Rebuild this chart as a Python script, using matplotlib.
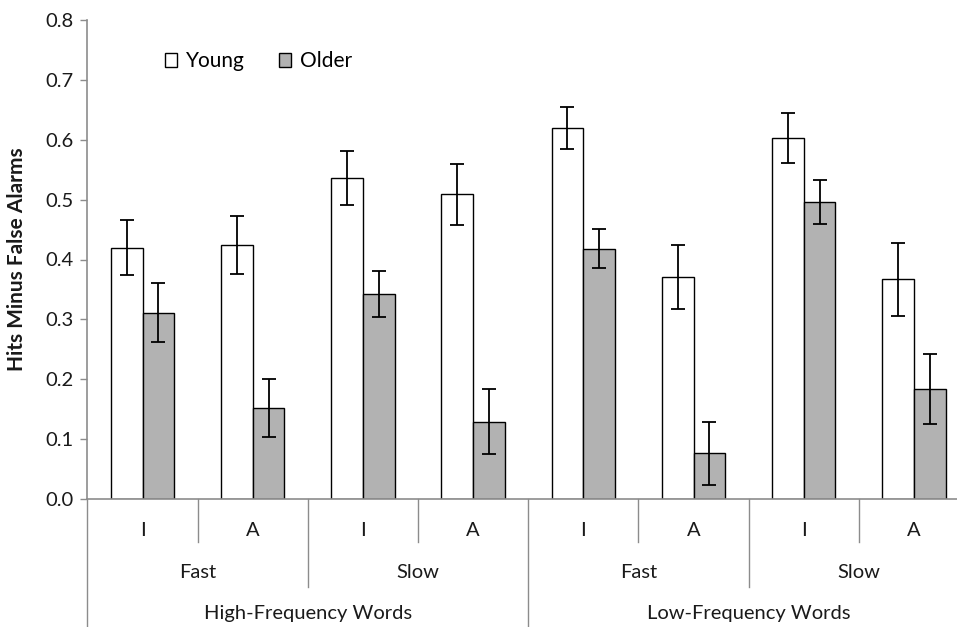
import matplotlib
matplotlib.use("Agg")
import matplotlib.pyplot as plt
from matplotlib.patches import Patch
import numpy as np

# data
conditions = ["I", "A", "I", "A", "I", "A", "I", "A"]
speeds = ["Fast", "Slow", "Fast", "Slow"]
frequencies = ["High-Frequency Words", "Low-Frequency Words"]

young = [0.420, 0.424, 0.536, 0.509, 0.619, 0.371, 0.603, 0.367]
young_err = [0.046, 0.049, 0.045, 0.051, 0.035, 0.054, 0.041, 0.061]
older = [0.311, 0.152, 0.342, 0.129, 0.418, 0.076, 0.496, 0.184]
older_err = [0.049, 0.048, 0.038, 0.054, 0.033, 0.053, 0.036, 0.058]

plt.rcParams['font.family'] = ['Lato', 'DejaVu Sans']

fig = plt.figure(figsize=(9.57, 6.27), dpi=100)
ax = fig.add_axes([87.4 / 957, 128 / 627, 881.6 / 957, 479 / 627])

axis_grey = '#8c8c8c'
text_col = '#1a1a1a'
fs = 14.5
bar_w = 0.2875
x = np.arange(len(conditions)) + 0.5

ax.bar(x - bar_w / 2, young, bar_w, color='white', edgecolor='black', linewidth=1.0,
       label='Young', zorder=2)
ax.bar(x + bar_w / 2, older, bar_w, color='#b2b2b2', edgecolor='black', linewidth=1.0,
       label='Older', zorder=2)
ax.errorbar(x - bar_w / 2, young, yerr=young_err, fmt='none', ecolor='black',
            elinewidth=1.3, capsize=5, capthick=1.3, zorder=3)
ax.errorbar(x + bar_w / 2, older, yerr=older_err, fmt='none', ecolor='black',
            elinewidth=1.3, capsize=5, capthick=1.3, zorder=3)

ax.set_xlim(0, len(conditions))
ax.set_ylim(0, 0.8)
ax.set_yticks(np.arange(0, 0.81, 0.1))
ax.set_yticklabels([f"{v:.1f}" for v in np.arange(0, 0.81, 0.1)])
ax.set_xticks([])
ax.tick_params(axis='y', direction='out', length=5, width=1, color=axis_grey,
               labelsize=fs, labelcolor=text_col, pad=5)

for side in ['top', 'right']:
    ax.spines[side].set_visible(False)
for side in ['left', 'bottom']:
    ax.spines[side].set_color(axis_grey)
    ax.spines[side].set_linewidth(1.2)

ax.set_ylabel('Hits Minus False Alarms', fontsize=15, fontweight='bold', color=text_col)
ax.yaxis.set_label_coords(-0.0685, 0.5)

# multi level category axis below the plot
trans = ax.get_xaxis_transform()
h = 479.0


def sep(xpos, depth):
    ax.plot([xpos, xpos], [0, -depth / h], color=axis_grey, lw=1.0,
            transform=trans, clip_on=False)


for i, lab in enumerate(conditions):
    ax.text(i + 0.5, -31 / h, lab, transform=trans, ha='center', va='center',
            fontsize=fs, color=text_col)
for i in range(1, len(conditions)):
    if i % 4 == 0:
        sep(i, 130)
    elif i % 2 == 0:
        sep(i, 88)
    else:
        sep(i, 43)
sep(0, 130)
sep(len(conditions), 130)

for j, lab in enumerate(speeds):
    ax.text(j * 2 + 1, -73 / h, lab, transform=trans, ha='center', va='center',
            fontsize=fs, color=text_col)
for k, lab in enumerate(frequencies):
    ax.text(k * 4 + 2, -115 / h, lab, transform=trans, ha='center', va='center',
            fontsize=fs, color=text_col)

handles = [Patch(facecolor='white', edgecolor='black', linewidth=1.0, label='Young'),
           Patch(facecolor='#b2b2b2', edgecolor='black', linewidth=1.0, label='Older')]
ax.legend(handles=handles, loc='upper left', bbox_to_anchor=(69 / 881.6, 1 - 23 / 479),
          ncol=2, frameon=False, fontsize=15, handlelength=0.6, handleheight=0.6,
          handletextpad=0.4, columnspacing=1.65, borderaxespad=0)

fig.savefig('out.png', dpi=100)
